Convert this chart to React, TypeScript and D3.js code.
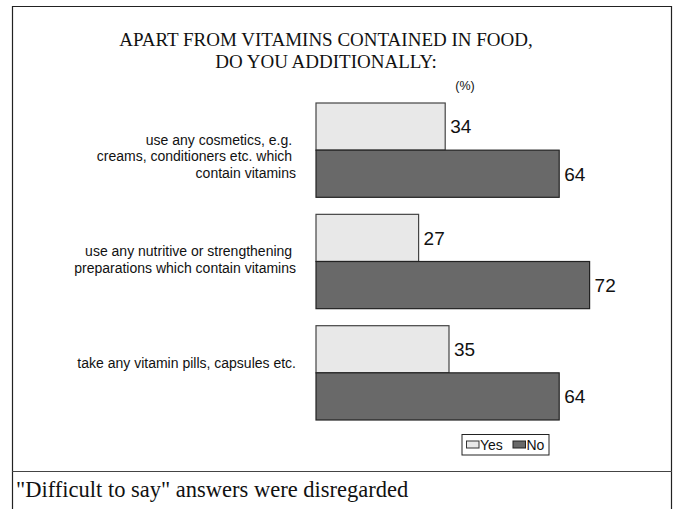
import React from 'react'
import * as d3 from 'd3'

const categories = [
  ['use any cosmetics, e.g. ', 'creams, conditioners etc. which ', 'contain vitamins'],
  ['use any nutritive or strengthening ', 'preparations which contain vitamins'],
  ['take any vitamin pills, capsules etc.'],
];
const seriesNames = ['Yes', 'No'];
const yesValues = [34, 27, 35];
const noValues = [64, 72, 64];
const seriesValues = [yesValues, noValues];
const titleLines = ['APART FROM VITAMINS CONTAINED IN FOOD,', 'DO YOU ADDITIONALLY:'];
const unitLabel = '(%)';
const footnote = '"Difficult to say" answers were disregarded';

const width = 680;
const height = 509;
const fills = ['#e8e8e8', '#696969'];
const strokes = ['#444', '#222'];
const sans = '"Liberation Sans", Arial, sans-serif';
const serif = '"Liberation Serif", "Times New Roman", serif';

const xScale = d3.scaleLinear().domain([0, 100]).range([316, 696]);

const yScale = d3.scaleBand()
  .domain(d3.range(categories.length).map(String))
  .range([103, 420])
  .paddingInner(0.153);

const innerScale = d3.scaleBand()
  .domain(seriesNames)
  .range([0, yScale.bandwidth()]);

const lineHeight = 16.3;
const labelTop = 37;

const App = () => (
  <div style={{ position: 'absolute', left: 0, top: 0 }}>
    <svg width={width} height={height} style={{ display: 'block', background: '#fff' }}>
      {/* frame */}
      <path d="M12.5,509 V6.5 H671.5 V509" fill="none" stroke="#222" strokeWidth={1.2} />
      <line x1={12} x2={672} y1={471.5} y2={471.5} stroke="#444" strokeWidth={1.2} />

      {titleLines.map((t, i) => (
        <text key={t} x={326} y={46 + i * 22} textAnchor="middle"
          fontFamily={serif} fontSize={19} fill="#111">{t}</text>
      ))}
      <text x={465} y={90} textAnchor="middle" fontFamily={sans} fontSize={12.5} fill="#111">
        {unitLabel}
      </text>

      {categories.map((lines, ci) => {
        const y0 = yScale(String(ci)) as number;
        return (
          <g key={ci}>
            {lines.map((l, li) => (
              <text key={li} x={296} y={y0 + labelTop + li * lineHeight} dy="0.35em" textAnchor="end"
                fontFamily={sans} fontSize={14} fill="#111" style={{ whiteSpace: 'pre' }}>{l}</text>
            ))}
            {seriesNames.map((s, si) => {
              const v = seriesValues[si][ci];
              const by = y0 + (innerScale(s) as number);
              const bh = innerScale.bandwidth();
              return (
                <g key={s}>
                  <rect x={xScale(0)} y={by} width={xScale(v) - xScale(0)} height={bh}
                    fill={fills[si]} stroke={strokes[si]} strokeWidth={1.2} />
                  <text x={xScale(v) + 5} y={by + bh / 2} dy="0.36em"
                    fontFamily={sans} fontSize={19} fill="#111">{v}</text>
                </g>
              );
            })}
          </g>
        );
      })}

      {/* legend */}
      <g>
        <rect x={462} y={434.5} width={87} height={20.5} fill="#fff" stroke="#222" strokeWidth={1} />
        <rect x={466.5} y={441} width={12.5} height={7} fill={fills[0]} stroke="#333" strokeWidth={1} />
        <text x={480} y={449.5} fontFamily={sans} fontSize={14} fill="#111">{seriesNames[0]}</text>
        <rect x={513} y={441} width={12.5} height={7} fill={fills[1]} stroke="#222" strokeWidth={1} />
        <text x={526.5} y={449.5} fontFamily={sans} fontSize={14} fill="#111">{seriesNames[1]}</text>
      </g>

      <text x={16} y={497} fontFamily={serif} fontSize={22.5} fill="#111">{footnote}</text>
    </svg>
  </div>
);

export default App
